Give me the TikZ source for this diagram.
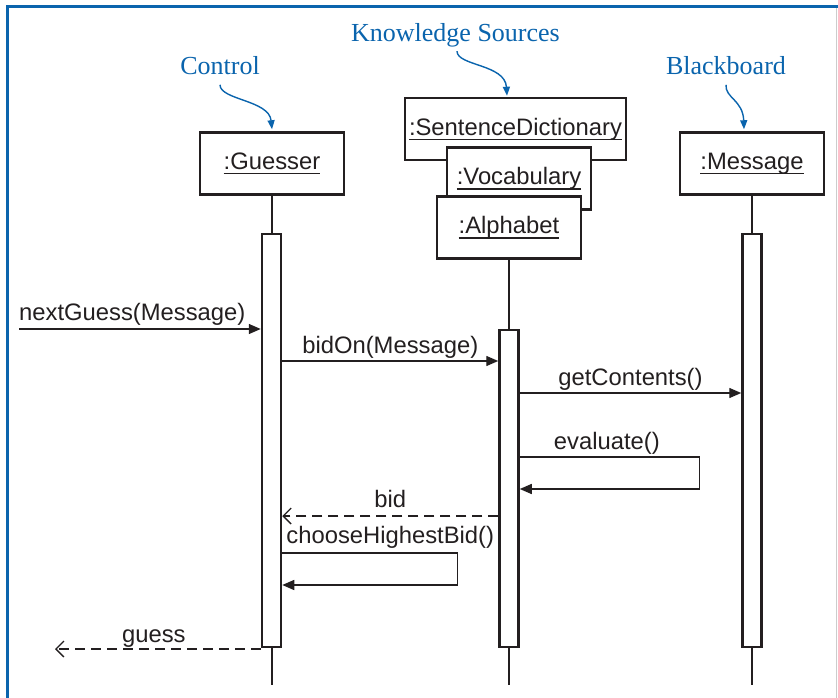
\documentclass[tikz,border=0pt]{standalone}
\usepackage{fontspec}
\setmainfont{Liberation Sans}
\newfontfamily\rolefont{Liberation Serif}
\usetikzlibrary{arrows.meta,positioning,calc}
\definecolor{role}{HTML}{0A64AD}
\definecolor{ink}{HTML}{231F20}
\newcommand{\objname}[1]{\setbox0\hbox{#1}\rlap{\rule[-5pt]{\wd0}{1.3pt}}\box0}

\begin{document}
\begin{tikzpicture}[x=1pt,y=-1pt,
    obj/.style={draw=ink,line width=2.5pt,fill=white,minimum width=144pt,minimum height=62pt,inner sep=0pt,text=ink,font=\fontsize{23.8}{28}\selectfont},
    bar/.style={draw=ink,line width=2.5pt,fill=white,minimum width=19pt,inner sep=0pt},
    life/.style={draw=ink,line width=1.3pt},
    call/.style={draw=ink,line width=1.4pt,-{Triangle[length=12pt,width=10pt]}},
    reply/.style={draw=ink,line width=1.3pt,dash pattern=on 10pt off 6pt,-{Straight Barb[length=8pt,width=16pt]}},
    msglabel/.style={anchor=base,inner sep=0pt,text=ink,font=\fontsize{23.8}{28}\selectfont},
    rolename/.style={anchor=base,text=role,font=\rolefont\fontsize{26}{30}\selectfont},
    rolearrow/.style={draw=role,line width=1.4pt,-{Triangle[length=9pt,width=7pt]}}]
  \useasboundingbox (0,0) rectangle (838,698);
  % frame
  \draw[role,line width=3pt] (7,698) -- (7,7) -- (838,7);
  \draw[black!20,line width=0.8pt] (836,8.5) -- (836,698);

  % objects
  \node[obj] (guesser) at (272,163.5) {\objname{:Guesser}};
  \node[obj,minimum width=221pt] (sdict) at (515.5,129) {\objname{:SentenceDictionary}};
  \node[obj] (vocab) at (519,178.5) {\objname{:Vocabulary}};
  \node[obj] (alpha) at (509,227.5) {\objname{:Alphabet}};
  \node[obj] (message) at (752,163.5) {\objname{:Message}};

  % roles
  \node[rolename] (control) at (220,75) {Control};
  \node[rolename] (ks) at (455.5,42) {Knowledge Sources};
  \node[rolename] (bb) at (726,75) {Blackboard};
  \draw[rolearrow] ([yshift=-6pt]control.south) .. controls (220,100) and (269,100) .. ([yshift=2pt]guesser.north);
  \draw[rolearrow] ([xshift=1.5pt]ks.south) .. controls (457,66) and (505,64) .. ([xshift=-8.5pt,yshift=1pt]sdict.north);
  \draw[rolearrow] ([yshift=-6pt]bb.south) .. controls (725,98) and (743,100) .. ([xshift=-8pt,yshift=2pt]message.north);

  % lifelines
  \coordinate (gend) at (272,685);
  \coordinate (aend) at (509,685);
  \coordinate (mend) at (752,685);
  \draw[life] (guesser) -- (gend);
  \draw[life] (alpha) -- (aend);
  \draw[life] (message) -- (mend);
  \node[bar,minimum height=413pt] (gbar) at (271.5,440.5) {};
  \node[bar,minimum height=317pt] (abar) at (509,488.5) {};
  \node[bar,minimum height=413pt] (mbar) at (752,440.5) {};

  % messages
  \coordinate (caller) at (19,329);
  \coordinate (r2) at (0,361);
  \coordinate (r3) at (0,393);
  \coordinate (r4) at (0,457);
  \coordinate (r4b) at (0,489);
  \coordinate (r5) at (0,516);
  \coordinate (r6) at (0,553);
  \coordinate (r6b) at (0,585);
  \coordinate (sink) at (55,649);
  \draw[call] (caller) -- (caller -| gbar.west);
  \node[msglabel,anchor=base west] (l1) at ([yshift=9pt]caller) {nextGuess(Message)};
  \draw[call] (gbar.east |- r2) -- node[msglabel,yshift=8pt] (l2) {bidOn(Message)} (abar.west |- r2);
  \draw[call] (abar.east |- r3) -- node[msglabel,yshift=8pt] (l3) {getContents()} (mbar.west |- r3);
  \draw[call] (abar.east |- r4) -- ++(180,0) -- ++(0,32) -- (abar.east |- r4b);
  \node[msglabel] (l4) at ([xshift=-3pt,yshift=8pt]$(abar.east |- r4)!0.5!(700,457)$) {evaluate()};
  \draw[reply] (abar.west |- r5) -- node[msglabel,yshift=9pt] (l5) {bid} (gbar.east |- r5);
  \draw[call] (gbar.east |- r6) -- ++(175,0) -- ++(0,32) -- (gbar.east |- r6b);
  \node[msglabel] (l6) at ([yshift=10pt]$(gbar.east |- r6)!0.5!(abar.west |- r6)$) {chooseHighestBid()};
  \draw[reply] (gbar.west |- sink) -- node[msglabel,yshift=7pt,xshift=-4pt] (l7) {guess} (sink);
\end{tikzpicture}
\end{document}
